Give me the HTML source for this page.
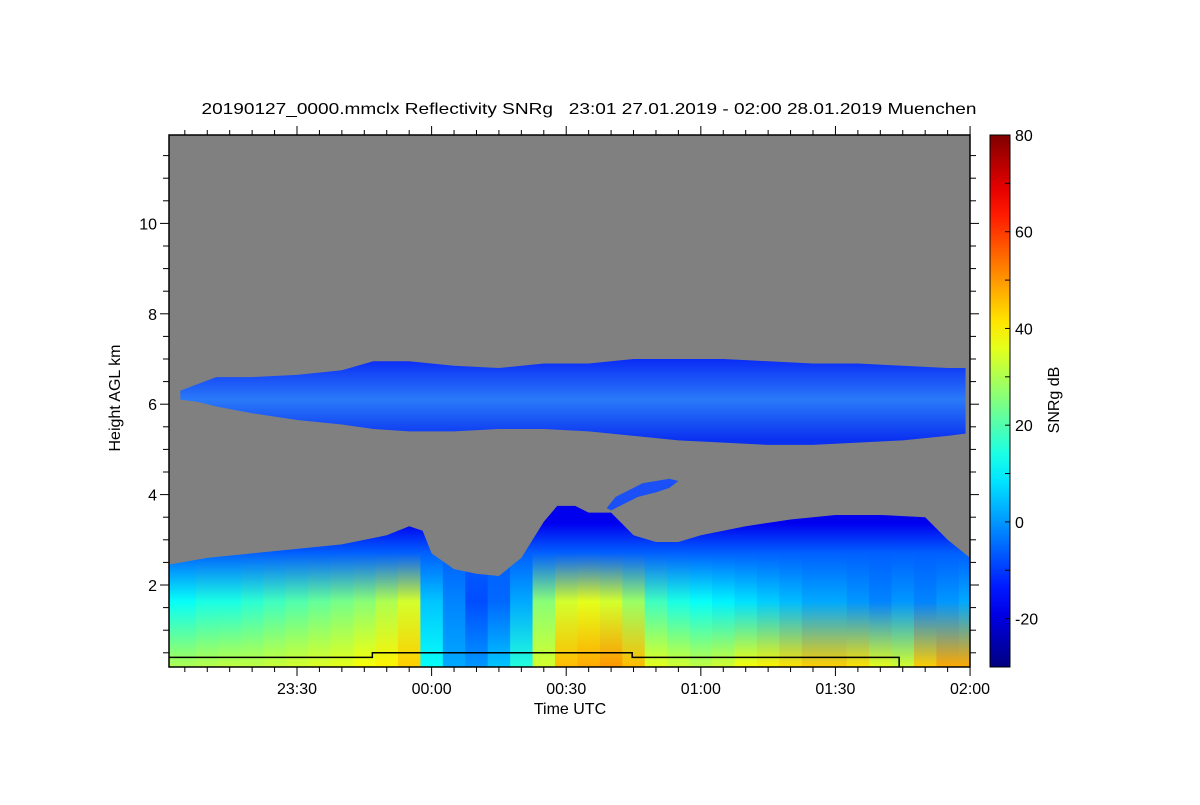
<!DOCTYPE html>
<html><head><meta charset="utf-8"><style>
body{margin:0;background:#fff;}
svg text{font-family:"Liberation Sans",sans-serif;fill:#000;white-space:pre;}
</style></head><body>
<svg id="chart" width="1200" height="800" xmlns="http://www.w3.org/2000/svg">
<rect width="1200" height="800" fill="#fff"/>
<text x="589" y="114" font-size="16" text-anchor="middle" textLength="775" lengthAdjust="spacingAndGlyphs" xml:space="preserve">20190127_0000.mmclx Reflectivity SNRg   23:01 27.01.2019 - 02:00 28.01.2019 Muenchen</text>
<text x="0" y="0" font-size="16" text-anchor="middle" transform="translate(120,398) rotate(-90)">Height AGL km</text>
<text x="570" y="714" font-size="16" text-anchor="middle">Time UTC</text>
<text x="0" y="0" font-size="16" text-anchor="middle" transform="translate(1059,400) rotate(-90)">SNRg dB</text>
<g id="plot"></g>
</svg>
<script>
// ---- data ----
const upperTimes=[4,8,12,20,30,40,47,55,65,75,85,95,105,115,125,135,145,155,165,175,179];
const upperTop=[6.3,6.45,6.6,6.6,6.65,6.75,6.95,6.95,6.85,6.8,6.9,6.9,7.0,7.0,7.0,6.95,6.9,6.9,6.85,6.8,6.8];
const upperBot=[6.1,6.05,5.95,5.8,5.65,5.55,5.45,5.4,5.4,5.45,5.45,5.4,5.3,5.2,5.15,5.1,5.1,5.15,5.2,5.3,5.35];
const lowerTimes=[1,10,20,30,40,50,55,58,60,65,70,75,80,85,88,92,95,100,105,110,115,120,130,140,150,160,170,175,180];
const lowerTop=[2.45,2.6,2.7,2.8,2.9,3.1,3.3,3.2,2.7,2.35,2.25,2.2,2.6,3.4,3.75,3.75,3.6,3.6,3.1,2.95,2.95,3.1,3.3,3.45,3.55,3.55,3.5,3.0,2.6];
const blobTimes=[99,101,104,107,110,113,115,113,110,106,103,100];
const blobH=[3.7,3.95,4.1,4.25,4.3,4.35,4.3,4.15,4.05,3.95,3.8,3.65];
const colTimes=[0,5,10,15,20,25,30,35,40,45,50,55,60,65,70,75,80,85,90,95,100,105,110,115,120,125,130,135,140,145,150,155,160,165,170,175,180];
const surfDb=[30,30,31,32,32,33,34,35,36,38,40,44,12,2,0,5,15,34,46,48,50,46,36,34,32,34,38,40,42,44,44,42,36,34,44,48,48];
const midDb=[12,12,14,14,16,18,20,22,24,26,30,34,5,-2,-8,-5,2,26,34,36,34,28,18,14,12,10,8,6,4,2,2,0,-2,0,-2,0,2];
const yTicks=[2,4,6,8,10];
const xTickMin=[30,60,90,120,150,180];
const xTickLabels=["23:30","00:00","00:30","01:00","01:30","02:00"];
const cbTicks=[-20,0,20,40,60,80];
const stepTimes=[1,46.8,46.8,104.7,104.7,164.2];
const stepH=[0.4,0.4,0.5,0.5,0.4,0.4];
// ---- scales ----
const L=169,R=970,T=135,B=667;
const x=m=>297+(m-30)*4.487;
const y=h=>585-(h-2)*45.2;
const cbY=v=>667-(v+30)*(532/110);
const NS="http://www.w3.org/2000/svg";
const g=document.getElementById('plot');
function el(tag,attrs,parent){const e=document.createElementNS(NS,tag);for(const k in attrs)e.setAttribute(k,attrs[k]);(parent||g).appendChild(e);return e;}
function jet(v){let t=Math.max(0,Math.min(1,(v+30)/110));
 const r=Math.max(0,Math.min(1,Math.min(4*t-1.5,-4*t+4.5)));
 const gg=Math.max(0,Math.min(1,Math.min(4*t-0.5,-4*t+3.5)));
 const b=Math.max(0,Math.min(1,Math.min(4*t+0.5,-4*t+2.5)));
 return `rgb(${Math.round(r*255)},${Math.round(gg*255)},${Math.round(b*255)})`;}
const defs=el('defs',{});
const bg=el('rect',{x:L,y:T,width:R-L,height:B-T,fill:'#808080'});


const cp=el('clipPath',{id:'lowclip'},defs);
let pts=[`${L},${B}`,`${L},${y(lowerTop[0])}`];
lowerTimes.forEach((t,i)=>pts.push(`${Math.max(L,Math.min(R,x(t)))},${y(lowerTop[i])}`));
pts.push(`${R},${y(lowerTop[lowerTop.length-1])}`);pts.push(`${R},${B}`);
el('polygon',{points:pts.join(' ')},cp);
const pl=el('clipPath',{id:'plotclip'},defs);
el('rect',{x:L,y:T,width:R-L,height:B-T},pl);
const low=el('g',{'clip-path':'url(#lowclip)'});


colTimes.forEach((t,i)=>{
 const gid='cg'+i;
 const lg=el('linearGradient',{id:gid,x1:0,y1:y(3.8),x2:0,y2:B,gradientUnits:'userSpaceOnUse'},defs);
 el('stop',{offset:'0.12',"stop-color":jet(-18)},lg);
 el('stop',{offset:'0.3',"stop-color":jet(-6)},lg);
 el('stop',{offset:'0.6',"stop-color":jet(midDb[i])},lg);
 el('stop',{offset:'1',"stop-color":jet(surfDb[i])},lg);
 const x0=x(t-2.5),x1=x(t+2.5);
 const r=el('rect',{x:Math.max(L,x0),y:T,width:Math.min(R,x1)-Math.max(L,x0)+0.6,height:B-T,fill:`url(#${gid})`},low);
 
 
});
const ug=el('linearGradient',{id:'ug',x1:0,y1:y(7),x2:0,y2:y(5.2),gradientUnits:'userSpaceOnUse'},defs);
el('stop',{offset:'0',"stop-color":'#0a2cf5'},ug);
el('stop',{offset:'0.5',"stop-color":'#2a7af8'},ug);
el('stop',{offset:'1',"stop-color":'#0a30f0'},ug);
let up=upperTimes.map((t,i)=>`${x(t)},${y(upperTop[i])}`);
for(let i=upperTimes.length-1;i>=0;i--)up.push(`${x(upperTimes[i])},${y(upperBot[i])}`);
const upl=el('polygon',{points:up.join(' '),fill:'url(#ug)','clip-path':'url(#plotclip)'});


const bl=el('polygon',{points:blobTimes.map((t,i)=>`${x(t)},${y(blobH[i])}`).join(' '),fill:'#1a50f5'});


let sp=stepTimes.map((t,i)=>`${Math.max(L,x(t))},${y(stepH[i])}`);sp.push(`${x(164.2)},${B}`);
const st=el('polyline',{points:sp.join(' '),fill:'none',stroke:'#000','stroke-width':1.5});


const fr=el('rect',{x:L,y:T,width:R-L,height:B-T,fill:'none',stroke:'#000','stroke-width':1.5});


for(let h=0.5;h<=11.9;h+=0.5){const maj=Math.abs(h%2)<1e-6;const yy=y(h);if(yy<T||yy>B)continue;
 const len=maj?9:6;
 el('line',{x1:L-len,y1:yy,x2:L,y2:yy,stroke:'#000'});
 el('line',{x1:R,y1:yy,x2:R+len,y2:yy,stroke:'#000'});}
yTicks.forEach(h=>{const t=el('text',{x:L-12,y:y(h)+6,'font-size':16,'text-anchor':'end'});t.textContent=h;
 });
for(let m=5;m<=180;m+=5){const xx=x(m);if(xx<L||xx>R+1)continue;const maj=m%30===0;const len=maj?9:5;
 el('line',{x1:xx,y1:B,x2:xx,y2:B+len,stroke:'#000'});
 el('line',{x1:xx,y1:T-len,x2:xx,y2:T,stroke:'#000'});}
xTickMin.forEach((m,i)=>{const t=el('text',{x:x(m),y:694,'font-size':16,'text-anchor':'middle'});t.textContent=xTickLabels[i];
 });
const cg=el('linearGradient',{id:'cbg',x1:0,y1:1,x2:0,y2:0},defs);
for(let k=0;k<=20;k++){el('stop',{offset:k/20,'stop-color':jet(-30+110*k/20)},cg);}
const cb=el('rect',{x:990,y:T,width:20,height:B-T,fill:'url(#cbg)',stroke:'#000','stroke-width':1});


for(let v=-30;v<=80;v+=10){const yy=cbY(v);el('line',{x1:1010,y1:yy,x2:1005,y2:yy,stroke:'#000'});}
cbTicks.forEach(v=>{const t=el('text',{x:1015,y:cbY(v)+6,'font-size':16});t.textContent=v;
 });
</script>
</body></html>
